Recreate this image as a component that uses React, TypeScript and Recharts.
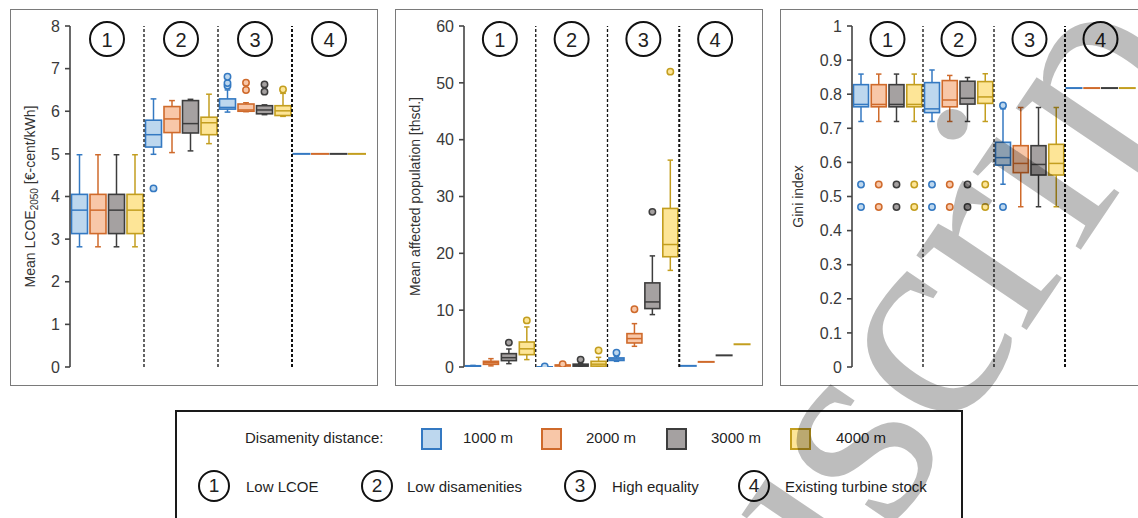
import React from "react";
import { Bar, ComposedChart, ReferenceDot, ReferenceLine, XAxis, YAxis } from "recharts";

const groups = ["1", "2", "3", "4"];
const distances = ["1000 m", "2000 m", "3000 m", "4000 m"];
const scenarios = ["Low LCOE", "Low disamenities", "High equality", "Existing turbine stock"];

const strokes = ["#3479c2", "#cf6a2b", "#3d3d3d", "#c39e1f"];
const fills = ["#bdd7ee", "#f8c7a8", "#a5a1a1", "#fde597"];

// one entry per scenario x distance: [whisker low, q1, median, q3, whisker high]
const lcoeStats = [
  [2.82, 3.13, 3.68, 4.05, 4.98],
  [2.82, 3.13, 3.68, 4.05, 4.98],
  [2.82, 3.13, 3.68, 4.05, 4.98],
  [2.82, 3.13, 3.68, 4.05, 4.98],
  [4.99, 5.16, 5.45, 5.79, 6.29],
  [5.03, 5.5, 5.82, 6.11, 6.25],
  [5.07, 5.49, 5.71, 6.25, 6.28],
  [5.24, 5.45, 5.73, 5.86, 6.4],
  [5.98, 6.05, 6.09, 6.29, 6.5],
  [5.99, 6.0, 6.03, 6.17, 6.2],
  [5.92, 5.94, 6.03, 6.13, 6.15],
  [5.88, 5.9, 6.01, 6.13, 6.42],
  [5, 5, 5, 5, 5],
  [5, 5, 5, 5, 5],
  [5, 5, 5, 5, 5],
  [5, 5, 5, 5, 5],
];
const lcoeOutliers = [[], [], [], [], [4.19], [], [], [], [6.6, 6.66, 6.81], [6.5, 6.67], [6.46, 6.63], [6.51], [], [], [], []];

const popStats = [
  [0.1, 0.14, 0.18, 0.22, 0.28],
  [0.2, 0.47, 0.75, 1.0, 1.47],
  [0.59, 1.12, 1.64, 2.35, 3.17],
  [1.3, 2.17, 3.2, 4.4, 7.05],
  [0, 0.01, 0.02, 0.03, 0.05],
  [0.15, 0.2, 0.28, 0.35, 0.4],
  [0.08, 0.15, 0.3, 0.5, 0.6],
  [0.05, 0.15, 0.5, 1.0, 1.7],
  [1.0, 1.15, 1.4, 1.6, 1.9],
  [3.64, 4.23, 5.0, 5.87, 7.63],
  [9.22, 10.28, 11.45, 14.8, 19.55],
  [17.0, 19.4, 21.55, 27.9, 36.4],
  [0.2, 0.2, 0.2, 0.2, 0.2],
  [0.9, 0.9, 0.9, 0.9, 0.9],
  [2.05, 2.05, 2.05, 2.05, 2.05],
  [4.0, 4.0, 4.0, 4.0, 4.0],
];
const popOutliers = [[], [], [4.29], [8.2], [0.1], [0.5], [1.3], [2.9], [2.5], [10.16], [27.3], [51.97], [], [], [], []];

const giniStats = [
  [0.72, 0.763, 0.77, 0.828, 0.859],
  [0.72, 0.763, 0.77, 0.828, 0.859],
  [0.72, 0.763, 0.77, 0.828, 0.859],
  [0.72, 0.763, 0.77, 0.828, 0.859],
  [0.72, 0.746, 0.757, 0.834, 0.871],
  [0.72, 0.763, 0.783, 0.84, 0.855],
  [0.72, 0.771, 0.788, 0.838, 0.849],
  [0.72, 0.773, 0.792, 0.837, 0.86],
  [0.536, 0.592, 0.614, 0.659, 0.757],
  [0.47, 0.57, 0.597, 0.649, 0.761],
  [0.47, 0.563, 0.594, 0.649, 0.761],
  [0.47, 0.563, 0.597, 0.653, 0.761],
  [0.818, 0.818, 0.818, 0.818, 0.818],
  [0.818, 0.818, 0.818, 0.818, 0.818],
  [0.818, 0.818, 0.818, 0.818, 0.818],
  [0.818, 0.818, 0.818, 0.818, 0.818],
];
const giniOutliers = [
  [0.469, 0.535], [0.469, 0.535], [0.469, 0.535], [0.469, 0.535],
  [0.469, 0.535], [0.469, 0.535], [0.469, 0.535], [0.469, 0.535],
  [0.469, 0.767], [], [], [],
  [], [], [], [],
];

const lcoeTicks = [0, 1, 2, 3, 4, 5, 6, 7, 8];
const popTicks = [0, 10, 20, 30, 40, 50, 60];
const giniTicks = [0, 0.1, 0.2, 0.3, 0.4, 0.5, 0.6, 0.7, 0.8, 0.9, 1];

const FONT = "'Liberation Sans', Arial, sans-serif";

function buildRows(stats: number[][], outliers: number[][]) {
  const rows: any[] = [];
  groups.forEach((g, gi) => {
    distances.forEach((d, di) => {
      const s = stats[gi * 4 + di];
      rows.push({
        key: `${g}-${d}`,
        pos: gi + (di + 0.5) / distances.length,
        range: [s[0], s[4]],
        stats: s,
        outliers: outliers[gi * 4 + di],
        series: di,
      });
    });
  });
  return rows;
}

function BoxShape(props: any) {
  const { x, y, width, height, payload } = props;
  const [lo, q1, med, q3, hi] = payload.stats;
  const stroke = strokes[payload.series];
  const fill = fills[payload.series];
  const top = Math.min(y, y + height);
  const h = Math.abs(height);
  if (hi === lo) {
    return <line x1={x} x2={x + width} y1={top} y2={top} stroke={stroke} strokeWidth={2} />;
  }
  const py = (v: number) => top + (h * (hi - v)) / (hi - lo);
  const cx = x + width / 2;
  const cap = width * 0.16;
  return (
    <g>
      <line x1={cx} x2={cx} y1={py(hi)} y2={py(q3)} stroke={stroke} strokeWidth={1.5} />
      <line x1={cx} x2={cx} y1={py(q1)} y2={py(lo)} stroke={stroke} strokeWidth={1.5} />
      <line x1={cx - cap} x2={cx + cap} y1={py(hi)} y2={py(hi)} stroke={stroke} strokeWidth={1.5} />
      <line x1={cx - cap} x2={cx + cap} y1={py(lo)} y2={py(lo)} stroke={stroke} strokeWidth={1.5} />
      <rect x={x + 1} y={py(q3)} width={width - 2} height={Math.max(py(q1) - py(q3), 1)} fill={fill} stroke={stroke} strokeWidth={1.6} />
      <line x1={x + 1} x2={x + width - 1} y1={py(med)} y2={py(med)} stroke={stroke} strokeWidth={1.5} />
      {payload.outliers.map((o: number, i: number) => (
        <circle key={i} cx={cx} cy={py(o)} r={3.2} fill={fill} stroke={stroke} strokeWidth={1.5} />
      ))}
    </g>
  );
}

function badge(label: string) {
  return (p: any) => (
    <g>
      <circle cx={p.cx} cy={p.cy} r={17} fill="#fff" stroke="#111" strokeWidth={2} />
      <text x={p.cx} y={p.cy + 1} textAnchor="middle" dominantBaseline="central" fontSize={20} fontFamily={FONT} fill="#222">
        {label}
      </text>
    </g>
  );
}

function axisTitle(content: React.ReactNode, cx: number) {
  return (props: any) => {
    const vb = props.viewBox || { y: 26, height: 341 };
    const cy = vb.y + vb.height / 2;
    return (
      <text x={cx} y={cy} transform={`rotate(-90 ${cx} ${cy})`} textAnchor="middle" dominantBaseline="central" fontSize={14} fontFamily={FONT} fill="#333">
        {content}
      </text>
    );
  };
}

type PanelProps = {
  left: number;
  axisWidth: number;
  titleX: number;
  yMax: number;
  ticks: number[];
  title: React.ReactNode;
  stats: number[][];
  outliers: number[][];
};

function Panel({ left, axisWidth, titleX, yMax, ticks, title, stats, outliers }: PanelProps) {
  const rows = buildRows(stats, outliers);
  return (
    <>
      <div style={{ position: "absolute", left, top: 9, width: 368, height: 377, border: "1px solid #7a7a7a", boxSizing: "border-box" }} />
      <div style={{ position: "absolute", left, top: 0 }}>
        <ComposedChart width={368} height={390} data={rows} margin={{ top: 26, right: 12, bottom: 23, left: 0 }} barCategoryGap={0.5}>
          <XAxis xAxisId="box" dataKey="key" type="category" hide />
          <XAxis xAxisId="grp" dataKey="pos" type="number" domain={[0, groups.length]} allowDataOverflow hide />
          <YAxis
            width={axisWidth}
            domain={[0, yMax]}
            ticks={ticks}
            interval={0}
            allowDataOverflow
            axisLine={{ stroke: "#444", strokeWidth: 1.6 }}
            tickLine={{ stroke: "#444", strokeWidth: 1.6 }}
            tickSize={5}
            tickMargin={5}
            tick={{ fill: "#3a3a3a", fontSize: 16, fontFamily: FONT }}
            label={{ position: "insideLeft", content: axisTitle(title, titleX) }}
          />
          {[1, 2, 3].map((v) => (
            <ReferenceLine key={v} xAxisId="grp" x={v} stroke="#111" strokeDasharray="3 2" strokeWidth={v === 3 ? 2 : 1.3} />
          ))}
          <Bar xAxisId="box" dataKey="range" shape={BoxShape} isAnimationActive={false} />
          {groups.map((g, i) => (
            <ReferenceDot key={g} xAxisId="grp" x={i + 0.5} y={yMax * 0.962} r={17} shape={badge(g)} ifOverflow="visible" />
          ))}
        </ComposedChart>
      </div>
    </>
  );
}

const swatchLeft = [421, 541, 666, 790];
const swatchTextLeft = [463, 586, 711, 836];
const badgeCenter = [214, 377, 580, 754];
const scenarioTextLeft = [246, 407, 612, 785];

function Legend() {
  const txt: React.CSSProperties = { position: "absolute", fontFamily: FONT, fontSize: 15, color: "#1f1f1f", lineHeight: "20px", whiteSpace: "nowrap" };
  return (
    <>
      <div style={{ position: "absolute", left: 175, top: 410, width: 788, height: 130, border: "2px solid #1a1a1a", boxSizing: "border-box" }} />
      <div style={{ ...txt, left: 245, top: 428 }}>Disamenity distance:</div>
      {distances.map((d, i) => (
        <React.Fragment key={d}>
          <div style={{ position: "absolute", left: swatchLeft[i], top: 428, width: 21, height: 22, boxSizing: "border-box", background: fills[i], border: `2px solid ${strokes[i]}` }} />
          <div style={{ ...txt, left: swatchTextLeft[i], top: 428 }}>{d}</div>
        </React.Fragment>
      ))}
      {scenarios.map((s, i) => (
        <React.Fragment key={s}>
          <div style={{ position: "absolute", left: badgeCenter[i] - 16, top: 470, width: 32, height: 32, boxSizing: "border-box", border: "2px solid #111", borderRadius: "50%", fontFamily: FONT, fontSize: 19, lineHeight: "28px", textAlign: "center", color: "#222" }}>
            {groups[i]}
          </div>
          <div style={{ ...txt, left: scenarioTextLeft[i], top: 477 }}>{s}</div>
        </React.Fragment>
      ))}
    </>
  );
}

export default function App() {
  return (
    <div style={{ position: "absolute", left: 0, top: 0, width: 1138, height: 518, overflow: "hidden", background: "#fff" }}>
      <Panel
        left={10}
        axisWidth={60}
        titleX={20}
        yMax={8}
        ticks={lcoeTicks}
        title={
          <>
            <tspan>Mean LCOE</tspan>
            <tspan dy={4} fontSize={10}>2050</tspan>
            <tspan dy={-4}> [€-cent/kWh]</tspan>
          </>
        }
        stats={lcoeStats}
        outliers={lcoeOutliers}
      />
      <Panel left={395} axisWidth={69} titleX={20} yMax={60} ticks={popTicks} title="Mean affected population [thsd.]" stats={popStats} outliers={popOutliers} />
      <Panel left={780} axisWidth={72} titleX={18} yMax={1} ticks={giniTicks} title="Gini index" stats={giniStats} outliers={giniOutliers} />
      <Legend />
      <svg width={1138} height={518} style={{ position: "absolute", left: 0, top: 0, pointerEvents: "none" }}>
        <text x={510} y={1096} transform="rotate(-56 510 1096)" fontFamily="'Liberation Serif', serif" fontSize={290} fill="#000" fillOpacity={0.26}>
          Manuscript
        </text>
      </svg>
    </div>
  );
}
